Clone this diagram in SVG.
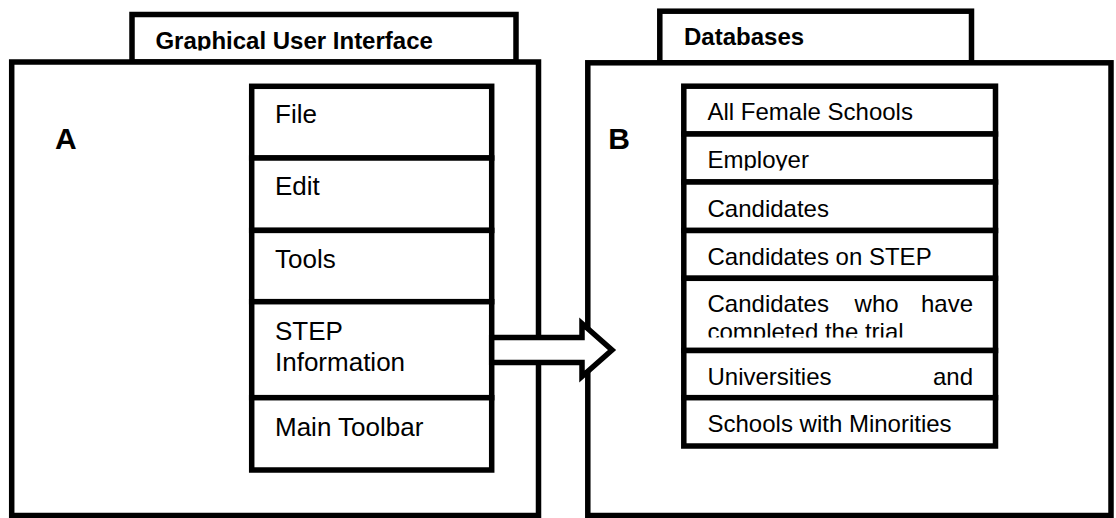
<svg xmlns="http://www.w3.org/2000/svg" width="1116" height="518" viewBox="0 0 1116 518">
<style>
.box{fill:#fff;stroke:#000;stroke-width:5.5}
.t{font-family:"Liberation Sans",Arial,sans-serif;fill:#000}
.l{font-size:26px}
.r{font-size:24px}
.h{font-size:24px;font-weight:bold}
.big{font-size:30px;font-weight:bold}
</style>
<defs>
<clipPath id="clipTitle"><rect x="135" y="17" width="378" height="33.5"/></clipPath>
<clipPath id="clipEmp"><rect x="686" y="137" width="307" height="33.5"/></clipPath>
<clipPath id="clipTrial"><rect x="686" y="281" width="307" height="56.5"/></clipPath>
</defs>
<rect width="1116" height="518" fill="#fff"/>

<g id="gui">
<rect class="box" x="132" y="14.5" width="384" height="47.5"/>
<rect class="box" x="11.7" y="62" width="526.8" height="453.5"/>
<text class="t h" x="155.4" y="48.5" clip-path="url(#clipTitle)">Graphical User Interface</text>
<text class="t big" x="55" y="149">A</text>
</g>

<g id="menu-file"><rect class="box" x="251.7" y="86.3" width="240" height="71.7"/><text class="t l" x="275" y="122.7">File</text></g>
<g id="menu-edit"><rect class="box" x="251.7" y="158" width="240" height="72.4"/><text class="t l" x="275" y="195">Edit</text></g>
<g id="menu-tools"><rect class="box" x="251.7" y="230.4" width="240" height="71.3"/><text class="t l" x="275" y="268.3">Tools</text></g>
<g id="menu-step"><rect class="box" x="251.7" y="301.7" width="240" height="96"/><text class="t l" x="275" y="340">STEP</text><text class="t l" x="275" y="370.7">Information</text></g>
<g id="menu-main"><rect class="box" x="251.7" y="397.7" width="240" height="72.3"/><text class="t l" x="275" y="436.3">Main Toolbar</text></g>

<g id="databases">
<rect class="box" x="659.8" y="11.2" width="311.7" height="51.6"/>
<rect class="box" x="587.8" y="62.8" width="523.2" height="452.7"/>
<text class="t h" x="684" y="45">Databases</text>
<text class="t big" x="608.3" y="149">B</text>
</g>

<g id="db-female"><rect class="box" x="683.8" y="86.2" width="311.7" height="47.8"/><text class="t r" x="707.5" y="120">All Female Schools</text></g>
<g id="db-employer"><rect class="box" x="683.8" y="134" width="311.7" height="48"/><text class="t r" x="707.5" y="168.3" clip-path="url(#clipEmp)">Employer</text></g>
<g id="db-candidates"><rect class="box" x="683.8" y="182" width="311.7" height="48.5"/><text class="t r" x="707.5" y="216.7">Candidates</text></g>
<g id="db-step"><rect class="box" x="683.8" y="230.5" width="311.7" height="47.8"/><text class="t r" x="707.5" y="264.5">Candidates on STEP</text></g>
<g id="db-trial"><rect class="box" x="683.8" y="278.3" width="311.7" height="72.2"/>
<g clip-path="url(#clipTrial)">
<text class="t r" x="707.5" y="312.3">Candidates</text><text class="t r" x="854.6" y="312.3">who</text><text class="t r" x="973" y="312.3" text-anchor="end">have</text>
<text class="t r" x="707.5" y="340">completed the trial</text>
</g></g>
<g id="db-univ"><rect class="box" x="683.8" y="350.5" width="311.7" height="47.2"/><text class="t r" x="707.5" y="384.7">Universities</text><text class="t r" x="973" y="384.7" text-anchor="end">and</text></g>
<g id="db-minor"><rect class="box" x="683.8" y="397.7" width="311.7" height="48.3"/><text class="t r" x="707.5" y="432.3">Schools with Minorities</text></g>

<g id="connectors">
<polygon class="box" stroke-linejoin="miter" points="491.7,337.5 582,337.5 582,323.5 612,350 582,376.5 582,362.5 491.7,362.5"/>
</g>
</svg>
